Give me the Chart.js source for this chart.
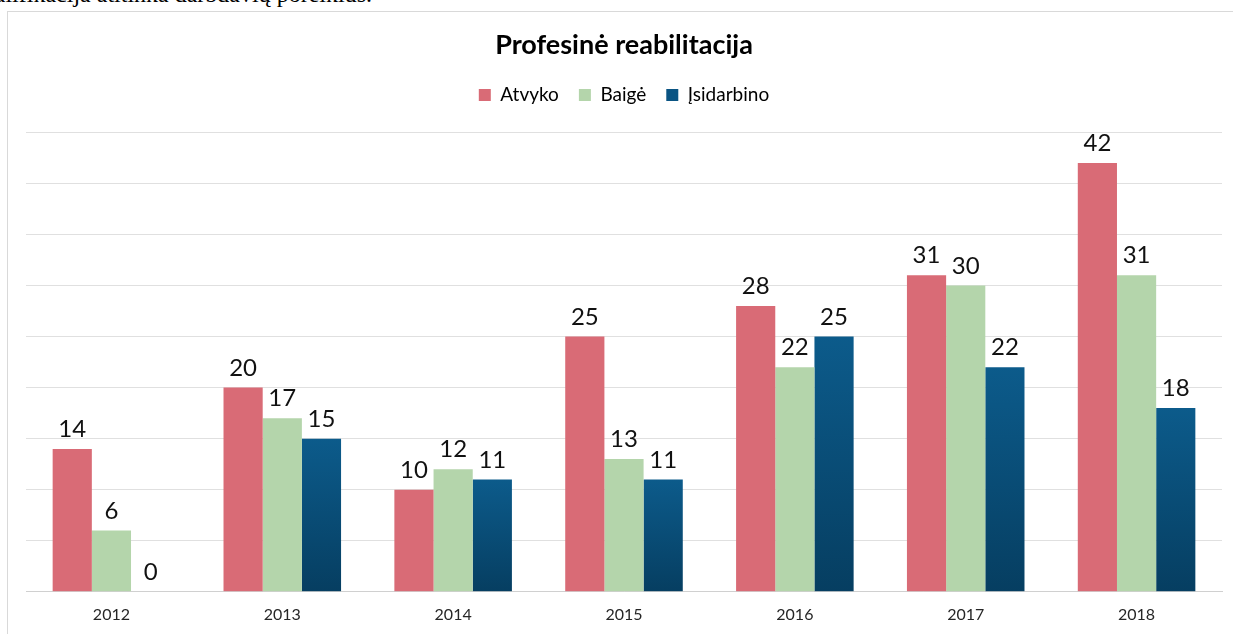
<!DOCTYPE html>
<html>
<head>
<meta charset="utf-8">
<script src="https://cdn.jsdelivr.net/npm/chart.js@4"></script>
<style>
  html, body { margin: 0; padding: 0; background: #fff; width: 1233px; height: 634px; overflow: hidden; }
  #doc { position: absolute; top: -19px; right: 861px; font: 24px "Liberation Serif", serif; color: #000; white-space: nowrap; }
  #frame { position: absolute; left: 7px; top: 11px; width: 1260px; height: 660px; border: 1px solid #d9d9d9; box-sizing: border-box; }
  #c { position: absolute; left: 0; top: 0; }
</style>
</head>
<body>
<div id="doc">kvalifikacija atitinka darbdavių poreikius.</div>
<div id="frame"></div>
<canvas id="c" width="1233" height="634"></canvas>
<script>
const categories = ['2012', '2013', '2014', '2015', '2016', '2017', '2018'];
const atvyko = [14, 20, 10, 25, 28, 31, 42];
const baige = [6, 17, 12, 13, 22, 30, 31];
const isidarbino = [0, 15, 11, 11, 25, 22, 18];
const seriesNames = ['Atvyko', 'Baigė', 'Įsidarbino'];
const chartTitle = 'Profesinė reabilitacija';

const FONT = 'Lato, "Open Sans", sans-serif';

function blueGradient(ctx) {
  const chart = ctx.chart;
  if (ctx.type !== 'data' || !chart.chartArea || !chart.scales.y) return '#0a5483';
  const y = chart.scales.y;
  const top = y.getPixelForValue(ctx.raw);
  const bottom = y.getPixelForValue(0);
  if (!(bottom - top > 0.5)) return '#0a5483';
  const g = chart.ctx.createLinearGradient(0, top, 0, bottom);
  g.addColorStop(0, '#0c5b8b');
  g.addColorStop(1, '#063e61');
  return g;
}

const valueLabels = {
  id: 'valueLabels',
  afterDatasetsDraw(chart) {
    const ctx = chart.ctx;
    ctx.save();
    ctx.font = '24px ' + FONT;
    ctx.fillStyle = '#111';
    ctx.textAlign = 'center';
    ctx.textBaseline = 'alphabetic';
    chart.data.datasets.forEach((ds, i) => {
      const meta = chart.getDatasetMeta(i);
      meta.data.forEach((el, j) => {
        ctx.fillText(String(ds.data[j]), el.x, el.y - 12);
      });
    });
    ctx.restore();
  }
};

const legendSpace = {
  id: 'legendSpace',
  beforeInit(chart) {
    if (!chart.legend) return;
    const fit = chart.legend.fit;
    chart.legend.fit = function () {
      fit.bind(chart.legend)();
      this.height += 18;
    };
  }
};

new Chart(document.getElementById('c'), {
  type: 'bar',
  data: {
    labels: categories,
    datasets: [
      { label: seriesNames[0], data: atvyko, backgroundColor: '#d96b76' },
      { label: seriesNames[1], data: baige, backgroundColor: '#b4d5ab' },
      { label: seriesNames[2], data: isidarbino, backgroundColor: blueGradient }
    ]
  },
  options: {
    responsive: false,
    animation: false,
    devicePixelRatio: 1,
    layout: { padding: { top: 29, left: 26, right: 11, bottom: -3 } },
    datasets: { bar: { categoryPercentage: 0.688, barPercentage: 1 } },
    plugins: {
      title: {
        display: true,
        text: chartTitle,
        color: '#000',
        font: { family: FONT, size: 27, weight: 'bold', lineHeight: 1.2 },
        padding: { top: 0, bottom: 4 }
      },
      legend: {
        display: true,
        position: 'top',
        labels: {
          color: '#000',
          font: { family: FONT, size: 19 },
          boxWidth: 12,
          boxHeight: 12,
          padding: 20
        }
      },
      tooltip: { enabled: false }
    },
    scales: {
      x: {
        grid: { display: false, drawTicks: false },
        border: { display: true, color: '#d0d0d0', width: 1 },
        ticks: { color: '#262626', font: { family: FONT, size: 16 }, padding: 13 }
      },
      y: {
        min: 0,
        max: 45,
        ticks: { display: false, stepSize: 5 },
        grid: { color: '#e0e0e0', drawTicks: false },
        border: { display: false }
      }
    }
  },
  plugins: [valueLabels, legendSpace]
});
</script>
</body>
</html>
